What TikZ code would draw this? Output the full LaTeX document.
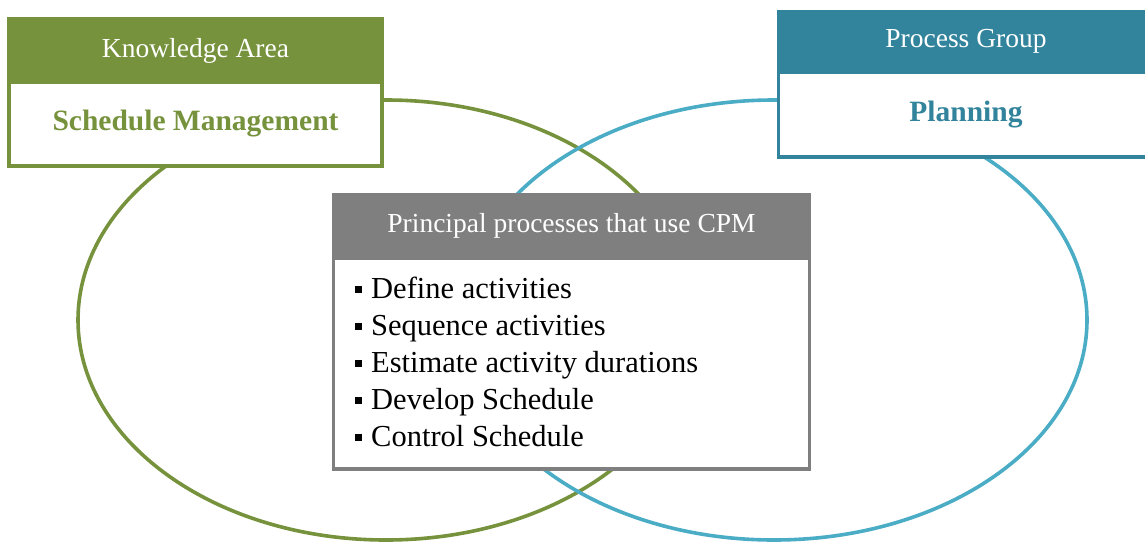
\documentclass[tikz,border=0pt]{standalone}
\usepackage{fontspec}
\setmainfont{Liberation Serif}
\usetikzlibrary{positioning,shapes.geometric}
\definecolor{kagreen}{HTML}{76923C}
\definecolor{pgblue}{HTML}{31849B}
\definecolor{pgring}{HTML}{4BACC6}
\definecolor{cpmgray}{HTML}{7F7F7F}
\newcommand{\sqbullet}{\rule[5pt]{7pt}{7pt}\hspace{9pt}}

\begin{document}
\begin{tikzpicture}[x=1pt, y=-1pt,
  ring/.style={ellipse, draw, line width=3.6pt, minimum width=616pt, minimum height=440pt},
  headbox/.style={rectangle, draw=#1, fill=#1, line width=3.6pt, outer sep=0pt, text=white, font=\fontsize{27.5}{33}\selectfont},
  bodybox/.style={rectangle, draw=#1, fill=white, line width=3.6pt, outer sep=0pt, text=#1, font=\fontsize{29.5}{35}\selectfont\bfseries},
  itemtext/.style={anchor=base west, inner sep=0pt, font=\fontsize{30.5}{36}\selectfont}]
\useasboundingbox (0,0) rectangle (1145,541);
% the two rings
\node[ring, draw=kagreen] (karing) at (386,320) {};
\node[ring, draw=pgring, minimum width=626pt] (pgring) at (774,320) {};
% knowledge area
\node[headbox=kagreen, minimum width=373pt, minimum height=63pt] (kahead) at (195.5,50.5) {Knowledge Area};
\node[bodybox=kagreen, minimum width=373pt, minimum height=84pt, below=0pt of kahead] (kabody) {Schedule Management};
% process group
\node[headbox=pgblue, minimum width=375pt, minimum height=60.5pt] (pghead) at (966,41.75) {Process Group};
\node[bodybox=pgblue, minimum width=375pt, minimum height=85pt, below=0pt of pghead] (pgbody) {Planning};
% principal processes
\node[headbox=cpmgray, minimum width=476pt, minimum height=63.5pt] (cpmhead) at (571.5,226.25) {Principal processes that use CPM};
\node[bodybox=cpmgray, minimum width=476pt, minimum height=211pt, below=0pt of cpmhead] (cpmbody) {};
\foreach \txt [count=\i] in {Define activities, Sequence activities, Estimate activity durations, Develop Schedule, Control Schedule}
  \node[itemtext] (item\i) at ({355},{261+37*\i}) {\sqbullet\txt};
\end{tikzpicture}
\end{document}
